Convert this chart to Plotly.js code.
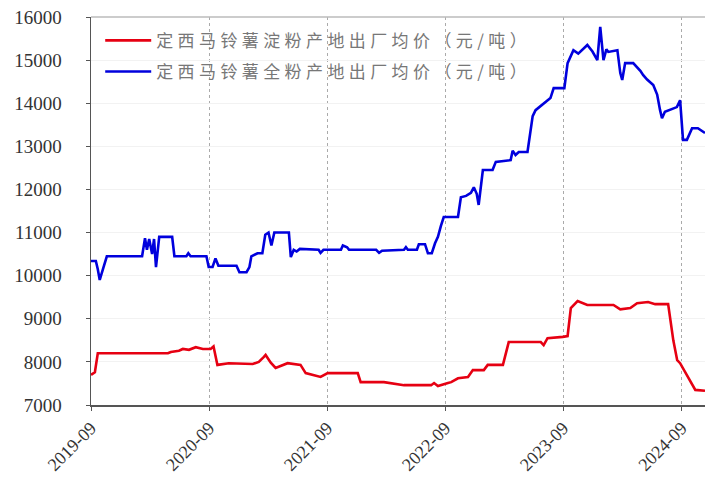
<!DOCTYPE html>
<html>
<head>
<meta charset="utf-8">
<script src="https://cdn.plot.ly/plotly-3.0.1.min.js"></script>
<style>html,body{margin:0;padding:0;background:#fff;}#chart{width:705px;height:486px;}
#chart .legendtext{letter-spacing:4.4px;}</style>
</head>
<body>
<div id="chart"></div>
<script>
const seriesNames = ["定西马铃薯淀粉产地出厂均价（元/吨）", "定西马铃薯全粉产地出厂均价（元/吨）"];

const starchDates = ["2019-09-01","2019-09-13","2019-09-22","2020-04-26","2020-05-05","2020-05-30","2020-06-11","2020-06-30","2020-07-21","2020-08-12","2020-09-05","2020-09-14","2020-09-26","2020-10-31","2021-01-13","2021-02-01","2021-02-16","2021-02-22","2021-03-10","2021-03-25","2021-05-01","2021-05-20","2021-06-10","2021-06-26","2021-08-11","2021-09-02","2021-12-04","2021-12-13","2022-02-23","2022-04-26","2022-07-19","2022-07-28","2022-08-09","2022-09-09","2022-09-19","2022-10-10","2022-11-10","2022-11-25","2022-12-29","2023-01-10","2023-02-26","2023-03-16","2023-06-23","2023-07-02","2023-07-14","2023-08-30","2023-09-14","2023-09-24","2023-10-15","2023-11-14","2024-02-03","2024-02-24","2024-03-26","2024-04-16","2024-05-20","2024-06-11","2024-07-21","2024-08-06","2024-08-18","2024-08-27","2024-10-13","2024-11-12"];
const starchValues = [7700,7760,8200,8200,8230,8260,8300,8280,8340,8300,8300,8360,7930,7970,7950,8000,8110,8160,7980,7860,7970,7950,7930,7740,7650,7740,7740,7530,7530,7460,7460,7510,7440,7510,7530,7620,7650,7810,7810,7930,7930,8460,8460,8390,8550,8580,8600,9250,9410,9320,9320,9220,9250,9360,9390,9340,9340,8500,8040,7970,7350,7330];

const flourDates = ["2019-09-01","2019-09-16","2019-09-22","2019-09-28","2019-10-08","2019-10-20","2020-02-06","2020-02-15","2020-02-21","2020-02-28","2020-03-08","2020-03-14","2020-03-20","2020-03-30","2020-05-09","2020-05-16","2020-06-22","2020-06-28","2020-07-05","2020-08-23","2020-08-30","2020-09-11","2020-09-20","2020-09-29","2020-11-24","2020-12-03","2020-12-25","2021-01-03","2021-01-09","2021-01-28","2021-02-12","2021-02-21","2021-03-03","2021-03-12","2021-03-21","2021-05-05","2021-05-11","2021-05-20","2021-05-29","2021-06-08","2021-08-05","2021-08-11","2021-08-20","2021-10-13","2021-10-19","2021-11-01","2021-11-07","2022-01-30","2022-02-08","2022-02-17","2022-04-26","2022-05-02","2022-05-08","2022-06-05","2022-06-11","2022-06-30","2022-07-09","2022-07-21","2022-07-31","2022-08-09","2022-08-18","2022-08-27","2022-10-10","2022-10-19","2022-11-04","2022-11-19","2022-11-28","2022-12-07","2022-12-13","2022-12-26","2023-01-25","2023-02-04","2023-03-22","2023-03-28","2023-04-06","2023-04-16","2023-05-13","2023-05-22","2023-05-29","2023-06-07","2023-07-02","2023-07-23","2023-08-02","2023-09-04","2023-09-14","2023-10-02","2023-10-17","2023-10-30","2023-11-14","2023-11-30","2023-12-15","2023-12-24","2024-01-03","2024-01-12","2024-01-18","2024-02-15","2024-02-24","2024-03-01","2024-03-10","2024-04-04","2024-04-26","2024-05-05","2024-05-17","2024-06-05","2024-06-17","2024-06-26","2024-07-02","2024-07-11","2024-08-17","2024-08-27","2024-09-05","2024-09-17","2024-10-03","2024-10-21","2024-11-12"];
const flourValues = [10340,10340,10150,9900,10150,10450,10450,10870,10600,10850,10500,10850,10200,10900,10900,10450,10450,10520,10450,10450,10200,10200,10400,10230,10230,10080,10080,10200,10450,10520,10520,10950,11000,10700,11000,11000,10430,10600,10560,10620,10600,10530,10600,10600,10700,10660,10600,10600,10530,10580,10600,10660,10600,10600,10730,10730,10520,10520,10750,10900,11150,11360,11360,11820,11850,11920,12050,11900,11640,12450,12450,12640,12680,12900,12800,12870,12870,13380,13700,13840,14000,14120,14350,14350,14930,15230,15150,15250,15350,15200,15000,15770,15000,15250,15190,15230,14700,14540,14930,14930,14750,14650,14550,14420,14200,13840,13650,13800,13910,14070,13150,13150,13420,13420,13310];

const tickDates = ["2019-09-01","2020-09-01","2021-09-01","2022-09-01","2023-09-01","2024-09-01"];
const tickLabels = ["2019-09","2020-09","2021-09","2022-09","2023-09","2024-09"];
const yTicks = [7000,8000,9000,10000,11000,12000,13000,14000,15000,16000];
const yLabels = ["7000","8000","9000","10000","11000","12000","13000","14000","15000","16000"];

const traces = [
  {x: starchDates, y: starchValues, name: seriesNames[0], type: 'scatter', mode: 'lines',
   legendgroup: 'a', line: {color: '#e60012', width: 2.6}},
  {x: flourDates, y: flourValues, name: seriesNames[1], type: 'scatter', mode: 'lines',
   legendgroup: 'b', line: {color: '#0000dd', width: 2.6}}
];

const serif = '"Liberation Serif", "Times New Roman", serif';
const layout = {
  width: 705, height: 486,
  margin: {l: 91, r: 0, t: 17, b: 81},
  paper_bgcolor: '#fff', plot_bgcolor: '#fff',
  showlegend: true,
  legend: {x: 0.015, y: 0.985, xanchor: 'left', yanchor: 'top', bgcolor: 'rgba(0,0,0,0)',
           itemwidth: 46, tracegroupgap: 6,
           font: {family: '"Noto Sans CJK SC"', size: 17, color: '#777'}},
  xaxis: {type: 'date', range: ['2019-09-01', '2024-11-12'],
          tickvals: tickDates, ticktext: tickLabels, tickangle: -45,
          tickfont: {family: serif, size: 18, color: '#333'},
          showgrid: true, gridcolor: '#aaa', griddash: 'dot', gridwidth: 1,
          showline: true, linecolor: '#555', linewidth: 1.5,
          ticks: 'outside', ticklen: 4, tickcolor: '#555', zeroline: false},
  yaxis: {range: [7000, 16000], tickvals: yTicks, ticktext: yLabels,
          tickfont: {family: serif, size: 19, color: '#333'},
          ticklabelstandoff: 20,
          showgrid: true, gridcolor: '#f2f2f2', gridwidth: 1,
          showline: true, linecolor: '#555', linewidth: 1.5,
          ticks: 'outside', ticklen: 4, tickcolor: '#555', zeroline: false},
  shapes: [{type: 'line', xref: 'paper', yref: 'paper', x0: 0, x1: 1, y0: 1, y1: 1,
            line: {color: '#bbb', width: 1.5}}]
};

Plotly.newPlot('chart', traces, layout, {displayModeBar: false, staticPlot: true}).then(function () {
  document.querySelectorAll('#chart .legend [clip-path]').forEach(function (el) {
    el.removeAttribute('clip-path');
  });
});
</script>
</body>
</html>
